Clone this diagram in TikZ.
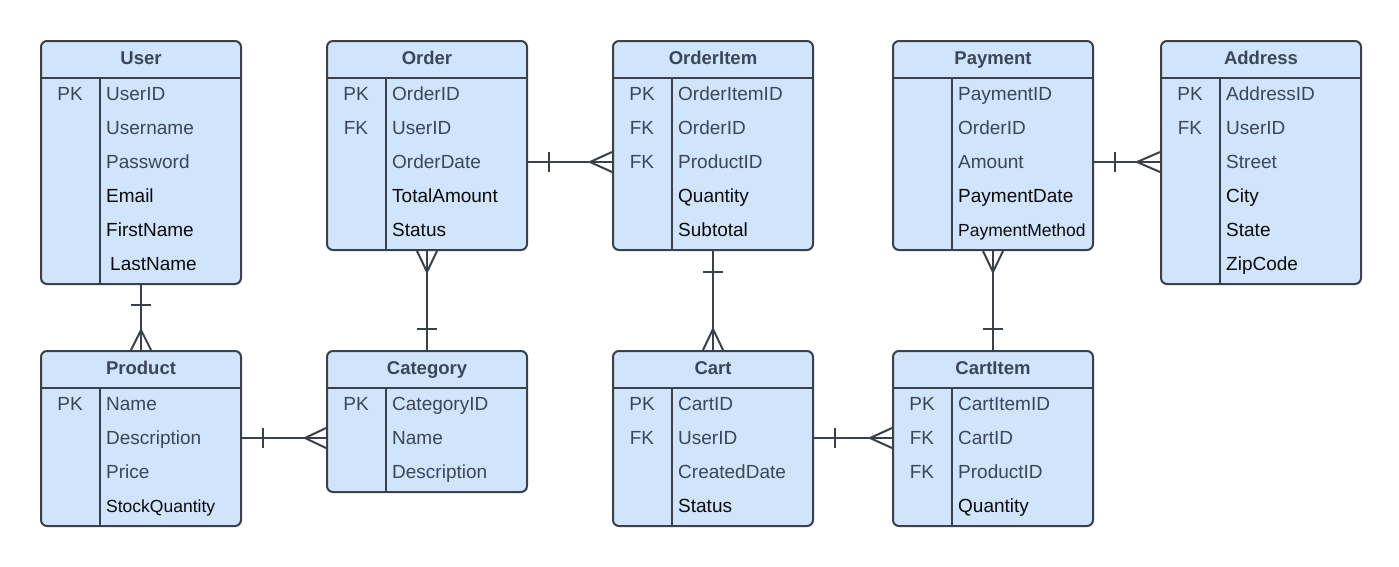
\documentclass[tikz,border=0pt]{standalone}
\usepackage{fontspec}
\setmainfont{Liberation Sans}
\usetikzlibrary{calc}
\definecolor{tfill}{HTML}{D0E4FC}
\definecolor{tline}{HTML}{3A414A}
\definecolor{slate}{HTML}{3B4657}
\definecolor{ink}{HTML}{0A0A0A}
\tikzset{
  tbl/.style={draw=tline, line width=2pt, fill=tfill, rounded corners=6pt, minimum width=200pt, inner sep=0pt, anchor=north west},
  ttl/.style={font=\fontsize{18.5}{22}\selectfont\bfseries, text=slate, inner sep=0pt, text height=13.3pt, text depth=0pt},
  keytxt/.style={font=\fontsize{19}{22}\selectfont, text=slate, inner sep=0pt, text height=17.6pt, text depth=4pt},
  fld/.style={font=\fontsize{19}{22}\selectfont, text=slate, anchor=west, inner sep=0pt, text height=17.6pt, text depth=4pt},
  dark/.style={text=ink},
  small/.style={font=\fontsize{17.5}{21}\selectfont, text=ink, text height=16.2pt, text depth=3.7pt},
  rel/.style={draw=tline, line width=2pt},
}
\newcommand{\ertable}[5]{%
  \pgfmathsetmacro{\tblh}{39+34*#4}%
  \node[tbl, minimum height=\tblh pt] (#1) at (#2,#3) {};
  \draw[rel] ($(#1.north west)+(0,38)$) -- ($(#1.north east)+(0,38)$);
  \draw[rel] ($(#1.north west)+(60,38)$) -- ($(#1.south west)+(60,0)$);
  \node[ttl] (#1-t) at ($(#1.north)+(0,17.5)$) {#5};
}
\newcommand{\errow}[5]{%
  \node[keytxt] (#1-k#2) at ($(#1.north west)+(30,{20+34*#2})$) {#3};
  \node[fld,#5] (#1-f#2) at ($(#1.north west)+(66,{20+34*#2})$) {#4};
}
\begin{document}
\begin{tikzpicture}[x=1pt,y=-1pt]
\useasboundingbox (0,0) rectangle (1399,566);
\fill[white] (0,0) rectangle (1399,566);

% ---------- tables ----------
\ertable{User}{40}{40}{6}{User}
\errow{User}{1}{PK}{UserID}{}
\errow{User}{2}{}{Username}{}
\errow{User}{3}{}{Password}{}
\errow{User}{4}{}{Email}{dark}
\errow{User}{5}{}{FirstName}{dark}
\errow{User}{6}{}{\hspace{4pt}LastName}{dark}

\ertable{Order}{326}{40}{5}{Order}
\errow{Order}{1}{PK}{OrderID}{}
\errow{Order}{2}{FK}{UserID}{}
\errow{Order}{3}{}{OrderDate}{}
\errow{Order}{4}{}{TotalAmount}{dark}
\errow{Order}{5}{}{Status}{dark}

\ertable{OrderItem}{612}{40}{5}{OrderItem}
\errow{OrderItem}{1}{PK}{OrderItemID}{}
\errow{OrderItem}{2}{FK}{OrderID}{}
\errow{OrderItem}{3}{FK}{ProductID}{}
\errow{OrderItem}{4}{}{Quantity}{dark}
\errow{OrderItem}{5}{}{Subtotal}{dark}

\ertable{Payment}{892}{40}{5}{Payment}
\errow{Payment}{1}{}{PaymentID}{}
\errow{Payment}{2}{}{OrderID}{}
\errow{Payment}{3}{}{Amount}{}
\errow{Payment}{4}{}{PaymentDate}{dark}
\errow{Payment}{5}{}{PaymentMethod}{small}

\ertable{Address}{1160}{40}{6}{Address}
\errow{Address}{1}{PK}{AddressID}{}
\errow{Address}{2}{FK}{UserID}{}
\errow{Address}{3}{}{Street}{}
\errow{Address}{4}{}{City}{dark}
\errow{Address}{5}{}{State}{dark}
\errow{Address}{6}{}{ZipCode}{dark}

\ertable{Product}{40}{350}{4}{Product}
\errow{Product}{1}{PK}{Name}{}
\errow{Product}{2}{}{Description}{}
\errow{Product}{3}{}{Price}{}
\errow{Product}{4}{}{StockQuantity}{small}

\ertable{Category}{326}{350}{3}{Category}
\errow{Category}{1}{PK}{CategoryID}{}
\errow{Category}{2}{}{Name}{}
\errow{Category}{3}{}{Description}{}

\ertable{Cart}{612}{350}{4}{Cart}
\errow{Cart}{1}{PK}{CartID}{}
\errow{Cart}{2}{FK}{UserID}{}
\errow{Cart}{3}{}{CreatedDate}{}
\errow{Cart}{4}{}{Status}{dark}

\ertable{CartItem}{892}{350}{4}{CartItem}
\errow{CartItem}{1}{PK}{CartItemID}{}
\errow{CartItem}{2}{FK}{CartID}{}
\errow{CartItem}{3}{FK}{ProductID}{}
\errow{CartItem}{4}{}{Quantity}{dark}

% ---------- relationships ----------
% User -> Product (one to many, vertical)
\draw[rel] (User.south) -- (Product.north);
\draw[rel] ($(User.south)+(-10,20)$) -- ($(User.south)+(10,20)$);
\draw[rel] ($(Product.north)+(-10,0)$) -- ($(Product.north)+(0,-20)$) -- ($(Product.north)+(10,0)$);

% Order (many) -> Category (one)
\draw[rel] (Order.south) -- (Category.north);
\draw[rel] ($(Order.south)+(-10,0)$) -- ($(Order.south)+(0,21)$) -- ($(Order.south)+(10,0)$);
\draw[rel] ($(Category.north)+(-10,-21)$) -- ($(Category.north)+(10,-21)$);

% OrderItem (one) -> Cart (many)
\draw[rel] (OrderItem.south) -- (Cart.north);
\draw[rel] ($(OrderItem.south)+(-10,21)$) -- ($(OrderItem.south)+(10,21)$);
\draw[rel] ($(Cart.north)+(-10,0)$) -- ($(Cart.north)+(0,-21)$) -- ($(Cart.north)+(10,0)$);

% Payment (many) -> CartItem (one)
\draw[rel] (Payment.south) -- (CartItem.north);
\draw[rel] ($(Payment.south)+(-10,0)$) -- ($(Payment.south)+(0,21)$) -- ($(Payment.south)+(10,0)$);
\draw[rel] ($(CartItem.north)+(-10,-21)$) -- ($(CartItem.north)+(10,-21)$);

% Order (one) -> OrderItem (many), horizontal
\coordinate (oE) at (Order.east |- Order-f3);
\coordinate (oiW) at (OrderItem.west |- Order-f3);
\draw[rel] (oE) -- (oiW);
\draw[rel] ($(oE)+(21,-10)$) -- ($(oE)+(21,10)$);
\draw[rel] ($(oiW)+(0,-10)$) -- ($(oiW)+(-22,0)$) -- ($(oiW)+(0,10)$);

% Payment (one) -> Address (many)
\coordinate (pE) at (Payment.east |- Payment-f3);
\coordinate (aW) at (Address.west |- Payment-f3);
\draw[rel] (pE) -- (aW);
\draw[rel] ($(pE)+(21,-10)$) -- ($(pE)+(21,10)$);
\draw[rel] ($(aW)+(0,-10)$) -- ($(aW)+(-23,0)$) -- ($(aW)+(0,10)$);

% Product (one) -> Category (many)
\coordinate (prE) at (Product.east |- Product-f2);
\coordinate (caW) at (Category.west |- Product-f2);
\draw[rel] (prE) -- (caW);
\draw[rel] ($(prE)+(21,-10)$) -- ($(prE)+(21,10)$);
\draw[rel] ($(caW)+(0,-10)$) -- ($(caW)+(-21,0)$) -- ($(caW)+(0,10)$);

% Cart (one) -> CartItem (many)
\coordinate (ctE) at (Cart.east |- Cart-f2);
\coordinate (ciW) at (CartItem.west |- Cart-f2);
\draw[rel] (ctE) -- (ciW);
\draw[rel] ($(ctE)+(21,-10)$) -- ($(ctE)+(21,10)$);
\draw[rel] ($(ciW)+(0,-10)$) -- ($(ciW)+(-22,0)$) -- ($(ciW)+(0,10)$);
\end{tikzpicture}
\end{document}
